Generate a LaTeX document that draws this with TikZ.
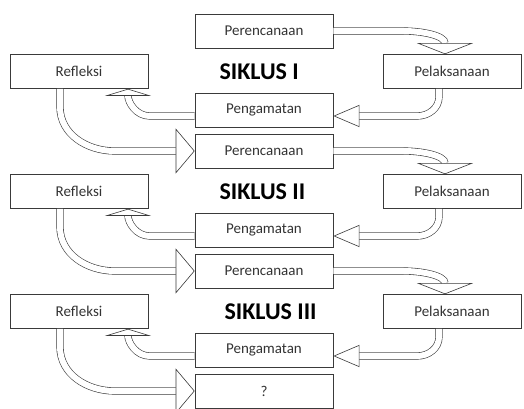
\documentclass[tikz,border=0pt]{standalone}
\usepackage{fontspec}
\setmainfont{Carlito}
\usetikzlibrary{arrows.meta}
\definecolor{Edge}{HTML}{3A3A3A}
\definecolor{Ink}{HTML}{333333}

\begin{document}
\begin{tikzpicture}[x=1pt,y=1pt,font=\fontsize{15}{17}\selectfont,text=Ink,
  box/.style={draw=Edge,line width=0.7pt,minimum width=138pt,minimum height=34pt,inner sep=0pt},
  cycle/.style={font=\bfseries\fontsize{24}{26}\selectfont,anchor=west,text=black},
  band/.style={draw=Edge,line width=0.6pt,double=white,double distance=6pt},
  toexec/.style={band,-{Triangle[length=11pt,width=56pt,fill=white,line width=0.6pt]}},
  toobs/.style={band,-{Triangle[length=26pt,width=22pt,fill=white,line width=0.6pt]}},
  torefl/.style={band,-{Triangle[length=7pt,width=46pt,fill=white,line width=0.6pt]}},
  toplan/.style={band,-{Triangle[length=19pt,width=45pt,fill=white,line width=0.6pt]}}]
  \useasboundingbox (0,0) rectangle (524,409);

  % siklus I
  \node[box] (plan1) at (264,378) {Perencanaan};
  \node[box] (refl1) at (79,337.5) {Refleksi};
  \node[box] (pel1) at (452,337.5) {Pelaksanaan};
  \node[box] (obs1) at (264,299) {Pengamatan};
  \node[cycle] (cyc1) at (216,337.5) {SIKLUS I};
  % siklus II
  \node[box] (plan2) at (264,258) {Perencanaan};
  \node[box] (refl2) at (79,217.5) {Refleksi};
  \node[box] (pel2) at (452,217.5) {Pelaksanaan};
  \node[box] (obs2) at (264,179) {Pengamatan};
  \node[cycle] (cyc2) at (216,217.5) {SIKLUS II};
  % siklus III
  \node[box] (plan3) at (264,138) {Perencanaan};
  \node[box] (refl3) at (79,97.5) {Refleksi};
  \node[box] (pel3) at (452,97.5) {Pelaksanaan};
  \node[box] (obs3) at (264,59) {Pengamatan};
  \node[cycle] (cyc3) at (221,97.5) {SIKLUS III};
  \node[box] (plan4) at (264,18) {?};

  % arrows of each cycle
  \draw[toexec] (plan1.east) -- ([xshift=70pt]plan1.east) to[out=0,in=90] ([xshift=-7pt]pel1.north);
  \draw[toobs] ([xshift=-13pt]pel1.south) -- ++(0,-8) to[out=-90,in=0] ([shift={(84pt,-6pt)}]obs1.east) -- ([yshift=-6pt]obs1.east);
  \draw[torefl] ([yshift=-6pt]obs1.west) -- ([shift={(-45pt,-6pt)}]obs1.west) to[out=180,in=-90] ([xshift=49pt]refl1.south);
  \draw[toplan] ([xshift=-19pt]refl1.south) -- ++(0,-18) to[out=-90,in=180] ([xshift=-80pt]plan2.west) -- (plan2.west);

  \draw[toexec] (plan2.east) -- ([xshift=70pt]plan2.east) to[out=0,in=90] ([xshift=-7pt]pel2.north);
  \draw[toobs] ([xshift=-13pt]pel2.south) -- ++(0,-8) to[out=-90,in=0] ([shift={(84pt,-6pt)}]obs2.east) -- ([yshift=-6pt]obs2.east);
  \draw[torefl] ([yshift=-6pt]obs2.west) -- ([shift={(-45pt,-6pt)}]obs2.west) to[out=180,in=-90] ([xshift=49pt]refl2.south);
  \draw[toplan] ([xshift=-19pt]refl2.south) -- ++(0,-18) to[out=-90,in=180] ([xshift=-80pt]plan3.west) -- (plan3.west);

  \draw[toexec] (plan3.east) -- ([xshift=70pt]plan3.east) to[out=0,in=90] ([xshift=-7pt]pel3.north);
  \draw[toobs] ([xshift=-13pt]pel3.south) -- ++(0,-8) to[out=-90,in=0] ([shift={(84pt,-6pt)}]obs3.east) -- ([yshift=-6pt]obs3.east);
  \draw[torefl] ([yshift=-6pt]obs3.west) -- ([shift={(-45pt,-6pt)}]obs3.west) to[out=180,in=-90] ([xshift=49pt]refl3.south);
  \draw[toplan] ([xshift=-19pt]refl3.south) -- ++(0,-18) to[out=-90,in=180] ([xshift=-80pt]plan4.west) -- (plan4.west);
\end{tikzpicture}
\end{document}
